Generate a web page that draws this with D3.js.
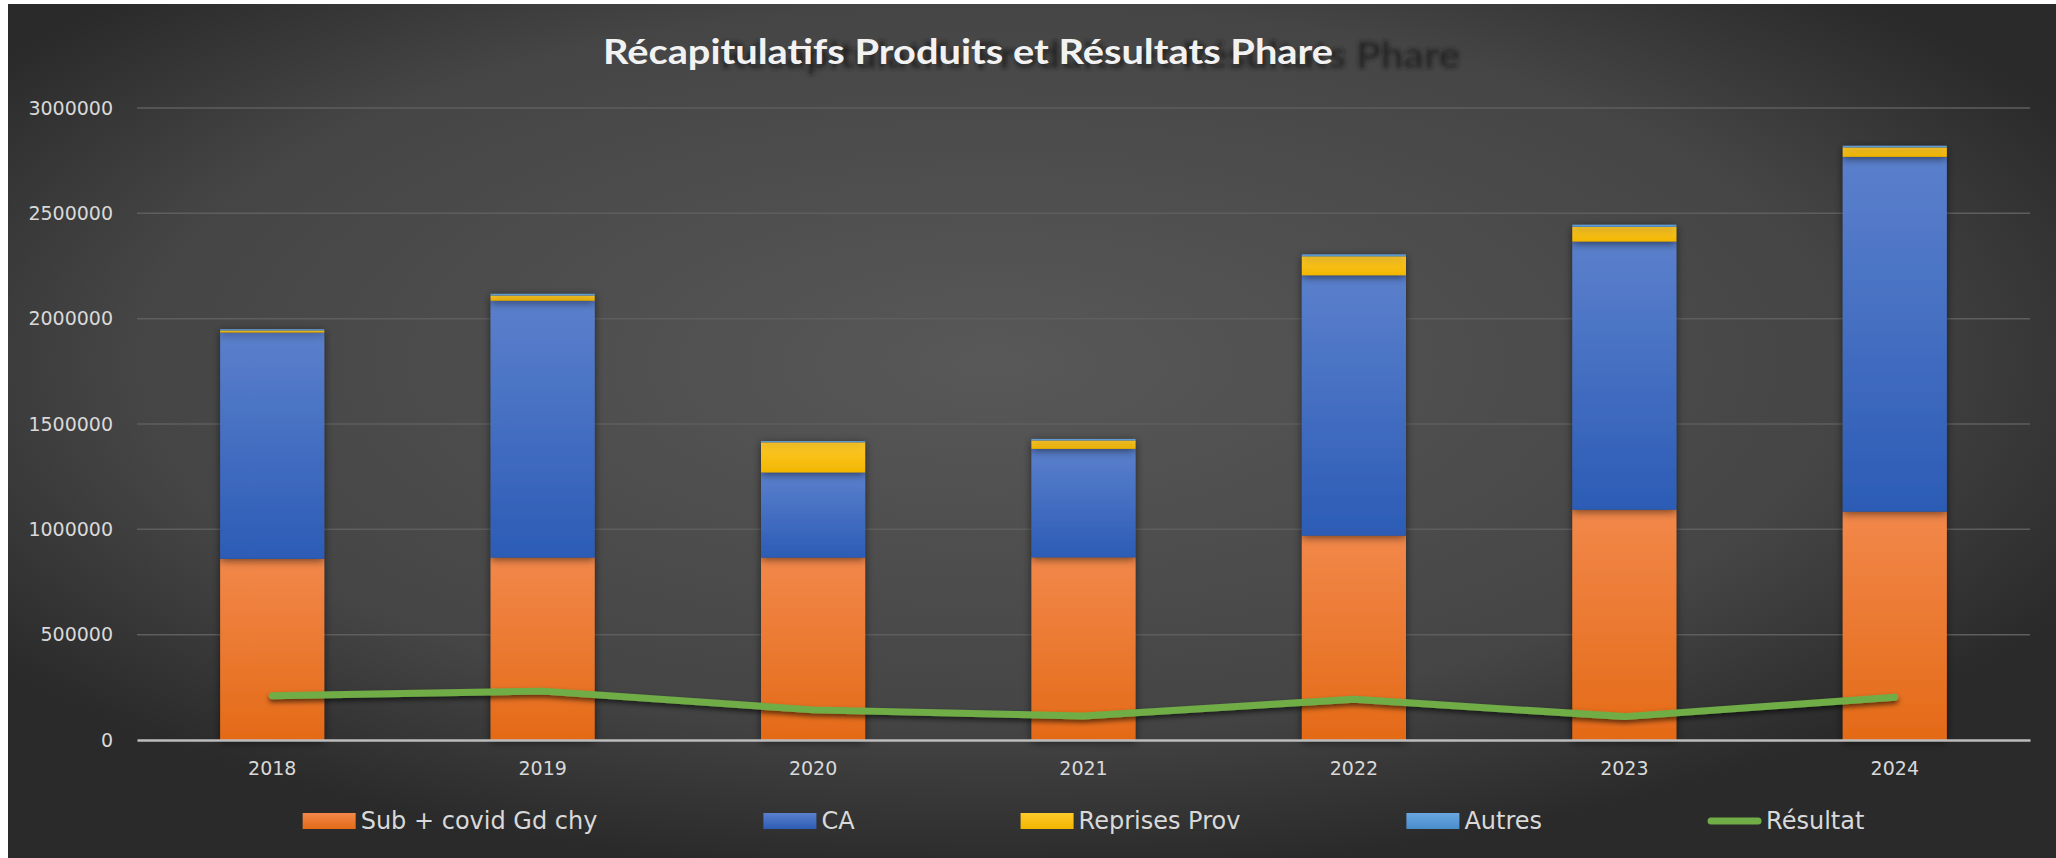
<!DOCTYPE html>
<html>
<head>
<meta charset="utf-8">
<script src="https://cdn.jsdelivr.net/npm/d3@7"></script>
<style>
  html, body { margin: 0; padding: 0; background: #ffffff; overflow: hidden; }
  svg { display: block; }
</style>
</head>
<body>
<div id="chart"></div>
<script>
// Data
var years = ["2018", "2019", "2020", "2021", "2022", "2023", "2024"];
var subCovid = [860000, 866000, 866000, 867000, 970000, 1093000, 1084000];
var ca = [1074000, 1219000, 404000, 515000, 1236000, 1273000, 1684000];
var reprises = [10000, 25000, 143000, 40000, 90000, 70000, 45000];
var autres = [6000, 8000, 6000, 7000, 9000, 10000, 8000];
var resultat = [210000, 232000, 143000, 114000, 193000, 111000, 203000];
var seriesNames = ["Sub + covid Gd chy", "CA", "Reprises Prov", "Autres"];
var lineName = "Résultat";
var yTicks = [0, 500000, 1000000, 1500000, 2000000, 2500000, 3000000];
var title = "Récapitulatifs Produits et Résultats Phare";

var width = 2056, height = 858;
var margin = { top: 108, right: 26, bottom: 119, left: 137 };

// table the stack layout needs
var rows = years.map(function (y, i) {
  return { year: y, "Sub + covid Gd chy": subCovid[i], "CA": ca[i], "Reprises Prov": reprises[i], "Autres": autres[i] };
});

var colors = {
  "Sub + covid Gd chy": ["#f2884a", "#e46a17"],
  "CA": ["#5b80cc", "#2c5cb6"],
  "Reprises Prov": ["#ffca2c", "#f2b600"],
  "Autres": ["#6aa7e0", "#4a8ccc"]
};

var svg = d3.select("#chart").append("svg")
  .attr("width", width)
  .attr("height", height);

var defs = svg.append("defs");

// background gradient
var bg = defs.append("radialGradient").attr("id", "bg")
  .attr("cx", "48%").attr("cy", "42%").attr("r", "60%");
bg.append("stop").attr("offset", "0%").attr("stop-color", "#585858");
bg.append("stop").attr("offset", "70%").attr("stop-color", "#454545");
bg.append("stop").attr("offset", "100%").attr("stop-color", "#2a2a2a");

seriesNames.forEach(function (name, i) {
  var g = defs.append("linearGradient").attr("id", "grad" + i)
    .attr("x1", 0).attr("y1", 0).attr("x2", 0).attr("y2", 1);
  g.append("stop").attr("offset", "0%").attr("stop-color", colors[name][0]);
  g.append("stop").attr("offset", "100%").attr("stop-color", colors[name][1]);
});

var shadow = defs.append("filter").attr("id", "shadow")
  .attr("x", "-20%").attr("y", "-20%").attr("width", "140%").attr("height", "140%");
shadow.append("feDropShadow").attr("dx", 0).attr("dy", 2).attr("stdDeviation", 4)
  .attr("flood-color", "#000").attr("flood-opacity", 0.55);

var lineShadow = defs.append("filter").attr("id", "lineShadow")
  .attr("x", "-5%").attr("y", "-50%").attr("width", "110%").attr("height", "200%");
lineShadow.append("feDropShadow").attr("dx", 0).attr("dy", 3).attr("stdDeviation", 2.5)
  .attr("flood-color", "#000").attr("flood-opacity", 0.6);

var blur = defs.append("filter").attr("id", "blur");
blur.append("feGaussianBlur").attr("stdDeviation", 2);

// chart area (white strip on the left and top like the screenshot)
svg.append("rect")
  .attr("x", 8).attr("y", 4)
  .attr("width", width - 8).attr("height", height - 4)
  .attr("fill", "url(#bg)");

// title, with its dark ghost copy
var titleX = 968, titleY = 64;
svg.append("text")
  .attr("x", titleX + 122).attr("y", titleY + 4)
  .attr("text-anchor", "middle")
  .attr("textLength", 740).attr("lengthAdjust", "spacingAndGlyphs")
  .attr("filter", "url(#blur)")
  .style("font-family", "Lato, 'Open Sans', sans-serif")
  .style("font-weight", "bold")
  .style("font-size", "36px")
  .style("fill", "#1e1e1e")
  .style("opacity", 0.8)
  .text(title);
svg.append("text")
  .attr("x", titleX).attr("y", titleY)
  .attr("text-anchor", "middle")
  .attr("textLength", 730).attr("lengthAdjust", "spacingAndGlyphs")
  .style("font-family", "Lato, 'Open Sans', sans-serif")
  .style("font-weight", "bold")
  .style("font-size", "35px")
  .style("fill", "#f2f2f2")
  .text(title);

var plotW = width - margin.left - margin.right;
var plotH = height - margin.top - margin.bottom;

var x = d3.scaleBand().domain(years).range([0, plotW]).paddingInner(0.615).paddingOuter(0.3075);
var y = d3.scaleLinear().domain([0, 3000000]).range([plotH + 1, 0]);

var g = svg.append("g").attr("transform", "translate(" + margin.left + "," + margin.top + ")");

// gridlines
g.append("g")
  .selectAll("line")
  .data(yTicks.slice(1))
  .enter().append("line")
  .attr("x1", 0).attr("x2", plotW)
  .attr("y1", function (d) { return y(d); })
  .attr("y2", function (d) { return y(d); })
  .attr("stroke", "#5e5e5e")
  .attr("stroke-width", 1.5);

// y axis labels
var yAxis = g.append("g")
  .call(d3.axisLeft(y).tickValues(yTicks).tickSize(0).tickPadding(24).tickFormat(d3.format("d")));
yAxis.select(".domain").remove();
yAxis.selectAll("text")
  .style("font-family", "'DejaVu Sans', sans-serif")
  .style("font-size", "19px")
  .style("fill", "#d9d9d9");

// stacked bars
var stack = d3.stack().keys(seriesNames);
var layers = stack(rows);

g.append("g").selectAll("g")
  .data(layers)
  .enter().append("g")
  .attr("fill", function (d, i) { return "url(#grad" + i + ")"; })
  .attr("filter", "url(#shadow)")
  .selectAll("rect")
  .data(function (d) { return d; })
  .enter().append("rect")
  .attr("x", function (d) { return x(d.data.year); })
  .attr("width", x.bandwidth())
  .attr("y", function (d) { return y(d[1]); })
  .attr("height", function (d) { return y(d[0]) - y(d[1]); });

// x axis
var xAxis = g.append("g")
  .attr("transform", "translate(0," + (plotH + 1) + ")")
  .call(d3.axisBottom(x).tickSize(0).tickPadding(22));
xAxis.select(".domain").attr("stroke", "#bdbdbd").attr("stroke-width", 2.5);
xAxis.selectAll("text")
  .style("font-family", "'DejaVu Sans', sans-serif")
  .style("font-size", "19px")
  .style("fill", "#d9d9d9");

// Résultat line
var line = d3.line()
  .x(function (d, i) { return x(years[i]) + x.bandwidth() / 2; })
  .y(function (d) { return y(d); });

g.append("path")
  .datum(resultat)
  .attr("d", line)
  .attr("fill", "none")
  .attr("stroke", "#70ad47")
  .attr("stroke-width", 7)
  .attr("stroke-linecap", "round")
  .attr("stroke-linejoin", "round")
  .attr("filter", "url(#lineShadow)");

// legend
var legendItems = seriesNames.map(function (n, i) { return { name: n, type: "bar", idx: i }; });
legendItems.push({ name: lineName, type: "line" });

var legend = svg.append("g").attr("transform", "translate(0,821)");
var swW = 53, swH = 16, gap = 166, txtGap = 5;
var items = legend.selectAll("g")
  .data(legendItems)
  .enter().append("g");

items.append("text")
  .attr("dy", "0.35em")
  .style("font-family", "'DejaVu Sans', sans-serif")
  .style("font-size", "24px")
  .style("fill", "#d9d9d9")
  .text(function (d) { return d.name; });

var widths = [];
items.select("text").each(function () { widths.push(this.getComputedTextLength()); });
var total = d3.sum(widths) + legendItems.length * (swW + txtGap) + (legendItems.length - 1) * gap;
var pos = margin.left + plotW / 2 - total / 2;

items.each(function (d, i) {
  var item = d3.select(this);
  item.attr("transform", "translate(" + pos + ",0)");
  if (d.type === "bar") {
    item.insert("rect", "text")
      .attr("x", 0).attr("y", -swH / 2)
      .attr("width", swW).attr("height", swH)
      .attr("fill", "url(#grad" + d.idx + ")");
  } else {
    item.insert("line", "text")
      .attr("x1", 3).attr("x2", swW - 3)
      .attr("y1", 0).attr("y2", 0)
      .attr("stroke", "#70ad47")
      .attr("stroke-width", 7)
      .attr("stroke-linecap", "round");
  }
  item.select("text").attr("x", swW + txtGap);
  pos += swW + txtGap + widths[i] + gap;
});
</script>
</body>
</html>
